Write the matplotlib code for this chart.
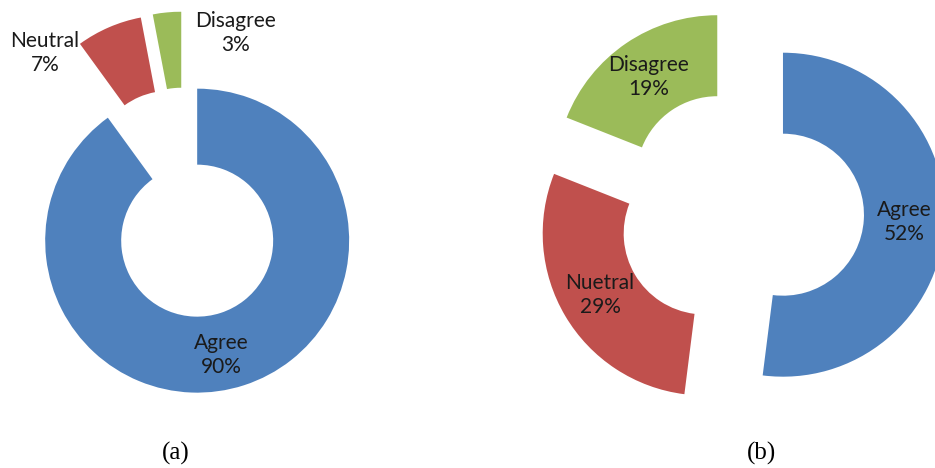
import matplotlib
matplotlib.use("Agg")
import matplotlib.pyplot as plt

# data
labels_a = ["Agree", "Neutral", "Disagree"]
values_a = [90, 7, 3]
labels_b = ["Agree", "Nuetral", "Disagree"]
values_b = [52, 29, 19]
colors = ["#4F81BD", "#C0504D", "#9BBB59"]

plt.rcParams['font.family'] = ['Lato', 'DejaVu Sans']

fig = plt.figure(figsize=(9.35, 4.68), dpi=100)


def donut(ax, values, names, fs):
    txt = [f"{n}\n{v}%" for n, v in zip(names, values)]
    wedges, texts = ax.pie(values, labels=txt, colors=colors, startangle=90,
                           counterclock=False, explode=[0.26] * len(values),
                           labeldistance=0.75,
                           wedgeprops=dict(width=0.5, linewidth=0),
                           textprops=dict(fontsize=fs, color="#1a1a1a"))
    for t in texts:
        t.set_ha("center")
        t.set_va("center")
        t.set_multialignment("center")
        t.set_linespacing(1.25)
    return texts


# (a)
ax1 = fig.add_axes([0, 0, 0.5, 1])
texts = donut(ax1, values_a, labels_a, 15)
texts[0].set_position((0.24, -1.0))
texts[1].set_position((-0.92, 0.99))
texts[2].set_position((0.33, 1.12))
ax1.set_xlim(-1.217, 1.859)
ax1.set_ylim(-1.743, 1.336)
ax1.set_aspect("equal")
ax1.axis("off")

# (b)
ax2 = fig.add_axes([0.5, 0, 0.5, 1])
donut(ax2, values_b, labels_b, 15)
ax2.set_xlim(-1.688, 1.198)
ax2.set_ylim(-1.580, 1.309)
ax2.set_aspect("equal")
ax2.axis("off")

fig.text(176 / 935, 1 - 453 / 468, "(a)", ha="center", va="center",
         family="Liberation Serif", fontsize=18)
fig.text(761 / 935, 1 - 453 / 468, "(b)", ha="center", va="center",
         family="Liberation Serif", fontsize=18)

fig.savefig("out.png", dpi=100)
